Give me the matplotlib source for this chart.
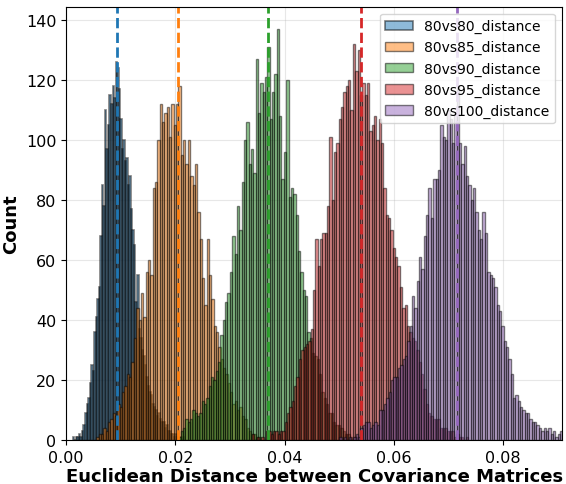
import numpy as np
import matplotlib
matplotlib.use('Agg')
import matplotlib.pyplot as plt

# Series names (legend order)
labels = ['80vs80_distance', '80vs85_distance', '80vs90_distance',
          '80vs95_distance', '80vs100_distance']

# First bin edge and bin width of every histogram
bin_start = [0.0012, 0.0055, 0.0205, 0.0340, 0.0500]
bin_width = [0.00028, 0.00043, 0.00043, 0.00043, 0.00043]

# Counts per bin
counts_80 = [1, 0, 1, 1, 2, 1, 3, 5, 9, 12, 14, 19, 25, 23, 36, 41, 47, 51, 68, 85,
             78, 110, 97, 105, 115, 112, 118, 114, 126, 124, 117, 107, 97, 100, 93, 94, 85, 88, 77, 70,
             65, 46, 55, 37, 34, 30, 28, 25, 21, 18, 16, 15, 12, 11, 10, 8, 9, 7, 6, 6,
             4, 5, 3, 3, 2, 2, 1, 2, 1, 0, 1, 0, 1]
counts_85 = [1, 2, 2, 4, 3, 6, 7, 9, 8, 12, 11, 16, 18, 22, 21, 26, 34, 44, 40, 49,
             41, 56, 60, 55, 84, 86, 100, 112, 106, 109, 111, 101, 112, 105, 112, 118, 95, 100, 92, 100,
             88, 85, 92, 76, 67, 54, 45, 67, 55, 47, 38, 36, 31, 27, 24, 22, 19, 16, 12, 13,
             10, 11, 8, 7, 4, 3, 2, 2, 1, 1]
counts_90 = [1, 3, 4, 7, 6, 7, 10, 9, 8, 9, 13, 12, 14, 18, 21, 20, 23, 26, 35, 40,
             46, 49, 56, 68, 62, 78, 70, 86, 100, 106, 92, 97, 89, 127, 109, 119, 116, 121, 131, 107,
             116, 122, 137, 108, 87, 96, 120, 81, 84, 82, 75, 63, 56, 50, 48, 36, 34, 29, 28, 27,
             22, 16, 14, 12, 9, 9, 6, 5, 5, 4, 3, 2, 2, 1, 0, 1]
counts_95 = [2, 0, 1, 0, 1, 0, 3, 3, 2, 3, 3, 2, 3, 3, 6, 9, 11, 13, 18, 21,
             27, 30, 31, 32, 33, 37, 50, 67, 58, 67, 69, 69, 78, 101, 80, 96, 99, 107, 111, 116,
             118, 120, 110, 132, 123, 130, 115, 119, 115, 119, 103, 105, 108, 100, 107, 99, 84, 75, 74, 70,
             64, 61, 58, 51, 44, 45, 38, 36, 34, 33, 30, 26, 22, 17, 12, 9, 8, 7, 7, 7,
             4, 4, 4, 3, 3, 3, 1, 2, 1, 1, 0, 1]
counts_100 = [1, 0, 1, 0, 1, 0, 1, 2, 1, 4, 5, 6, 6, 4, 5, 6, 5, 10, 10, 12,
              14, 16, 20, 21, 21, 24, 25, 27, 28, 33, 38, 48, 44, 53, 61, 57, 68, 75, 84, 74,
              87, 87, 90, 105, 101, 100, 110, 107, 99, 109, 118, 99, 92, 98, 88, 85, 80, 84, 76, 70,
              67, 76, 69, 56, 55, 54, 51, 45, 43, 38, 33, 31, 27, 22, 14, 15, 13, 11, 10, 9,
              9, 7, 6, 6, 5, 4, 3, 4, 3, 4, 2, 3, 1, 2, 3]
all_counts = [counts_80, counts_85, counts_90, counts_95, counts_100]

# Position of the dashed line of every series
centre_lines = [0.0093, 0.0205, 0.0370, 0.0540, 0.0716]

colors = ['tab:blue', 'tab:orange', 'tab:green', 'tab:red', 'tab:purple']
edge_widths = [1.2, 1.0, 1.0, 1.0, 1.0]

fig, ax = plt.subplots(figsize=(5.66, 4.85), dpi=100)
fig.subplots_adjust(left=0.117, right=0.993, bottom=0.091, top=0.984)

for lab, start, w, cnt, col, lw in zip(labels, bin_start, bin_width, all_counts, colors, edge_widths):
    edges = start + w * np.arange(len(cnt))
    ax.bar(edges, cnt, width=w, align='edge', color=col, alpha=0.5,
           edgecolor='black', linewidth=lw, label=lab)

for x, col in zip(centre_lines, colors):
    ax.axvline(x, color=col, linestyle='--', linewidth=2)

ax.set_xlim(0, 0.0908)
ax.set_ylim(0, 144.5)
ax.set_xticks([0.0, 0.02, 0.04, 0.06, 0.08])
ax.tick_params(labelsize=11.5)
ax.grid(True, alpha=0.3)
ax.set_axisbelow(True)

ax.set_xlabel('Euclidean Distance between Covariance Matrices', fontsize=13, fontweight='bold', labelpad=2)
ax.set_ylabel('Count', fontsize=13, fontweight='bold')
ax.legend(loc='upper right', fontsize=10)

plt.savefig('out.png', dpi=100)
